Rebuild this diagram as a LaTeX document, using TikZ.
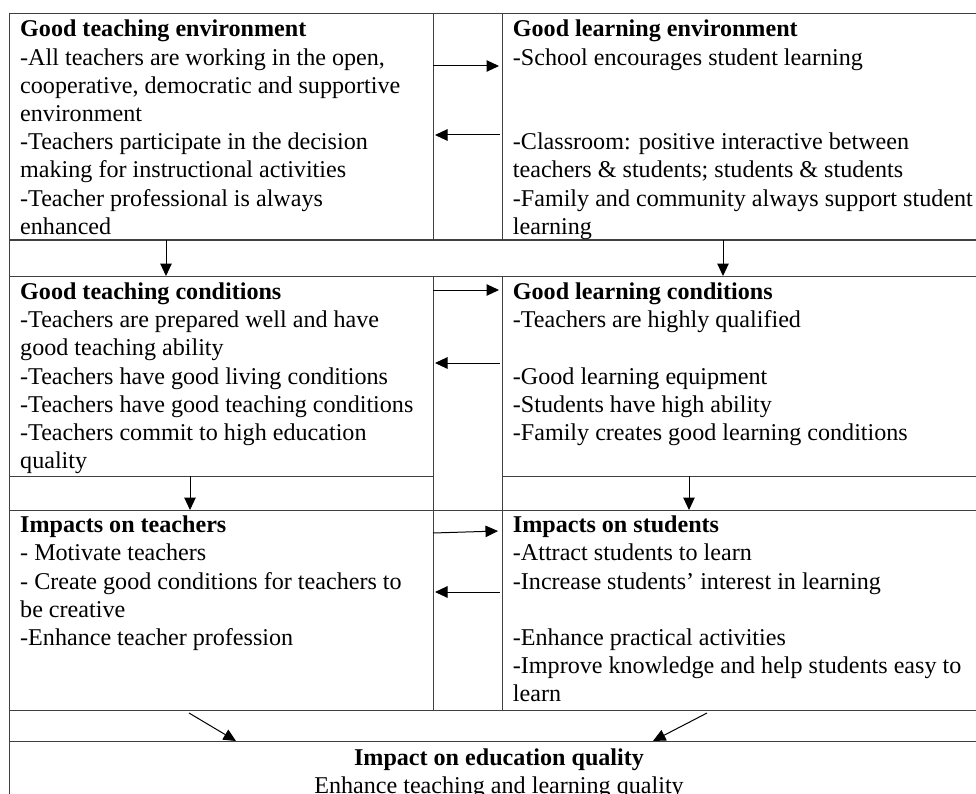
\documentclass[tikz,border=0pt]{standalone}
\usepackage{fontspec}
\setmainfont{Liberation Serif}
\usetikzlibrary{arrows.meta}
\begin{document}
\begin{tikzpicture}[x=1pt,y=-1pt,
  grid/.style={draw=black!75,line width=1pt},
  arr/.style={draw=black,line width=1pt,-{Triangle[length=12.5pt,width=11.5pt]}},
  cell/.style={anchor=north west,inner sep=0pt,align=left,font=\fontsize{24.1}{28.2}\selectfont},
  ctext/.style={anchor=north,inner sep=0pt,align=center,font=\fontsize{24.1}{28.2}\selectfont}]
\useasboundingbox (0,0) rectangle (976,794);
\clip (0,0) rectangle (976,794);
% table lines
\draw[grid] (9,14) -- (992,14);
\draw[grid] (9,240) -- (992,240);
\draw[grid] (9,276) -- (992,276);
\draw[grid] (9,476) -- (433,476);
\draw[grid] (502,476) -- (992,476);
\draw[grid] (9,510) -- (992,510);
\draw[grid] (9,710) -- (992,710);
\draw[grid] (9,741) -- (992,741);
\draw[grid] (9,14) -- (9,810);
\draw[grid] (992,14) -- (992,810);
\draw[grid] (433,14) -- (433,240);
\draw[grid] (433,276) -- (433,710);
\draw[grid] (502,14) -- (502,240);
\draw[grid] (502,276) -- (502,710);
% texts
\node[cell] (te) at (20,17) {\strut\textbf{Good teaching environment}\\
-All teachers are working in the open,\\
cooperative, democratic and supportive\\
environment\\
-Teachers participate in the decision\\
making for instructional activities\\
-Teacher professional is always\\
enhanced};
\node[cell] (le) at (512.7,17) {\strut\textbf{Good learning environment}\\
-School encourages student learning\\
\strut\\
\strut\\
-Classroom: positive interactive between\\
teachers \& students; students \& students\\
-Family and community always support student\\
learning};
\node[cell] (tc) at (20,279.6) {\strut\textbf{Good teaching conditions}\\
-Teachers are prepared well and have\\
good teaching ability\\
-Teachers have good living conditions\\
-Teachers have good teaching conditions\\
-Teachers commit to high education\\
quality};
\node[cell] (lc) at (512.7,279.6) {\strut\textbf{Good learning conditions}\\
-Teachers are highly qualified\\
\strut\\
-Good learning equipment\\
-Students have high ability\\
-Family creates good learning conditions};
\node[cell] (it) at (20,512.8) {\strut\textbf{Impacts on teachers}\\
- Motivate teachers\\
- Create good conditions for teachers to\\
be creative\\
-Enhance teacher profession};
\node[cell] (is) at (512.7,512.8) {\strut\textbf{Impacts on students}\\
-Attract students to learn\\
-Increase students’ interest in learning\\
\strut\\
-Enhance practical activities\\
-Improve knowledge and help students easy to\\
learn};
\node[ctext] (eq) at (499,745.3) {\strut\textbf{Impact on education quality}\\
Enhance teaching and learning quality};
% arrow end points
\coordinate (a1s) at (433,66);  \coordinate (a1e) at (499,66);
\coordinate (a2s) at (500,135); \coordinate (a2e) at (435,135);
\coordinate (d1s) at (166,240); \coordinate (d1e) at (166,276);
\coordinate (d2s) at (723,240); \coordinate (d2e) at (723,276);
\coordinate (a3s) at (433,290); \coordinate (a3e) at (499,290);
\coordinate (a4s) at (500,363); \coordinate (a4e) at (435,363);
\coordinate (d3s) at (190,476); \coordinate (d3e) at (190,510);
\coordinate (d4s) at (689,476); \coordinate (d4e) at (689,510);
\coordinate (a5s) at (433,533); \coordinate (a5e) at (498,531);
\coordinate (a6s) at (500,592); \coordinate (a6e) at (435,592);
\coordinate (g1s) at (189,713); \coordinate (g1e) at (236,741);
\coordinate (g2s) at (707,713); \coordinate (g2e) at (653,741);
\draw[arr] (a1s) -- (a1e);
\draw[arr] (a2s) -- (a2e);
\draw[arr] (d1s) -- (d1e);
\draw[arr] (d2s) -- (d2e);
\draw[arr] (a3s) -- (a3e);
\draw[arr] (a4s) -- (a4e);
\draw[arr] (d3s) -- (d3e);
\draw[arr] (d4s) -- (d4e);
\draw[arr] (a5s) -- (a5e);
\draw[arr] (a6s) -- (a6e);
\draw[arr] (g1s) -- (g1e);
\draw[arr] (g2s) -- (g2e);
\end{tikzpicture}
\end{document}
